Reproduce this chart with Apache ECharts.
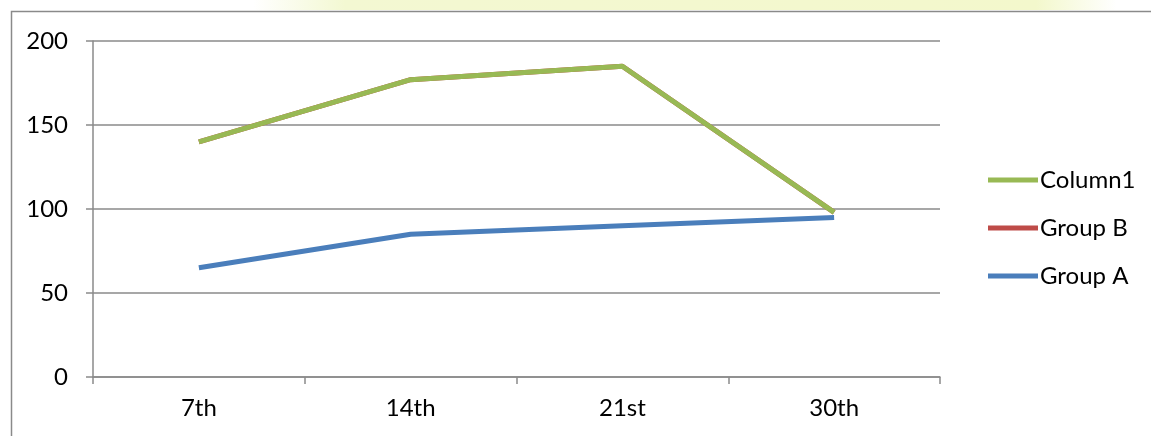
<!DOCTYPE html>
<html>
<head>
<meta charset="utf-8">
<script src="https://cdn.jsdelivr.net/npm/echarts@6/dist/echarts.min.js"></script>
<style>
  html, body { margin: 0; padding: 0; background: #fff; }
  #chart { width: 1151px; height: 436px; }
</style>
</head>
<body>
<div id="chart"></div>
<script>
// data
const days = ["7th", "14th", "21st", "30th"];
const groupA = [65, 85, 90, 95];
const groupB = [140, 177, 185, 98];
const column1 = [140, 177, 185, 98];
const yTicks = [0, 50, 100, 150, 200];

const font = "Lato, 'Noto Sans', sans-serif";
const gray = "#8a8a8a";

const myChart = echarts.init(document.getElementById("chart"));
let option = {
  backgroundColor: "#fff",
  animation: false,
  graphic: [
    {
      type: "rect",
      shape: { x: 0, y: 0, width: 1151, height: 10 },
      style: {
        fill: {
          type: "linear", x: 0, y: 0, x2: 1, y2: 0,
          colorStops: [
            { offset: 0, color: "#ffffff" },
            { offset: 0.22, color: "#ffffff" },
            { offset: 0.3, color: "#f3f8d2" },
            { offset: 0.9, color: "#f3f8cc" },
            { offset: 0.97, color: "#ffffff" },
            { offset: 1, color: "#ffffff" }
          ]
        }
      },
      silent: true
    },
    {
      type: "polyline",
      shape: { points: [[11.5, 436], [11.5, 11.5], [1151, 11.5]] },
      style: { stroke: gray, lineWidth: 1.5, fill: null },
      silent: true
    }
  ],
  grid: { left: 93, top: 41, right: 211, bottom: 59 },
  legend: {
    orient: "vertical",
    left: 983,
    top: 163,
    itemGap: 24,
    itemWidth: 50,
    itemHeight: 5,
    icon: "rect",
    data: ["Column1", "Group B", "Group A"],
    textStyle: { fontFamily: font, fontSize: 24, lineHeight: 24, color: "#000", padding: [0, 0, 0, -3] }
  },
  xAxis: {
    type: "category",
    boundaryGap: true,
    data: days,
    axisLine: { lineStyle: { color: gray, width: 1.5 } },
    axisTick: { show: true, length: 7, lineStyle: { color: gray, width: 1.5 } },
    axisLabel: { fontFamily: font, fontSize: 24, color: "#000", margin: 19 }
  },
  yAxis: {
    type: "value",
    min: yTicks[0],
    max: yTicks[yTicks.length - 1],
    interval: 50,
    axisLine: { show: true, lineStyle: { color: gray, width: 1.5 } },
    axisTick: { show: true, length: 7, lineStyle: { color: gray, width: 1.5 } },
    splitLine: { lineStyle: { color: gray, width: 1.5 } },
    axisLabel: { fontFamily: font, fontSize: 24, color: "#000", margin: 25 }
  },
  series: [
    {
      name: "Group A",
      type: "line",
      data: groupA,
      showSymbol: false,
      color: "#4a7ebb",
      lineStyle: { width: 5 },
      z: 2
    },
    {
      name: "Group B",
      type: "line",
      data: groupB,
      showSymbol: false,
      color: "#be4b48",
      lineStyle: { width: 5 },
      z: 3
    },
    {
      name: "Column1",
      type: "line",
      data: column1,
      showSymbol: false,
      color: "#98b954",
      lineStyle: { width: 5 },
      z: 4
    }
  ]
};
myChart.setOption(option);
</script>
</body>
</html>
